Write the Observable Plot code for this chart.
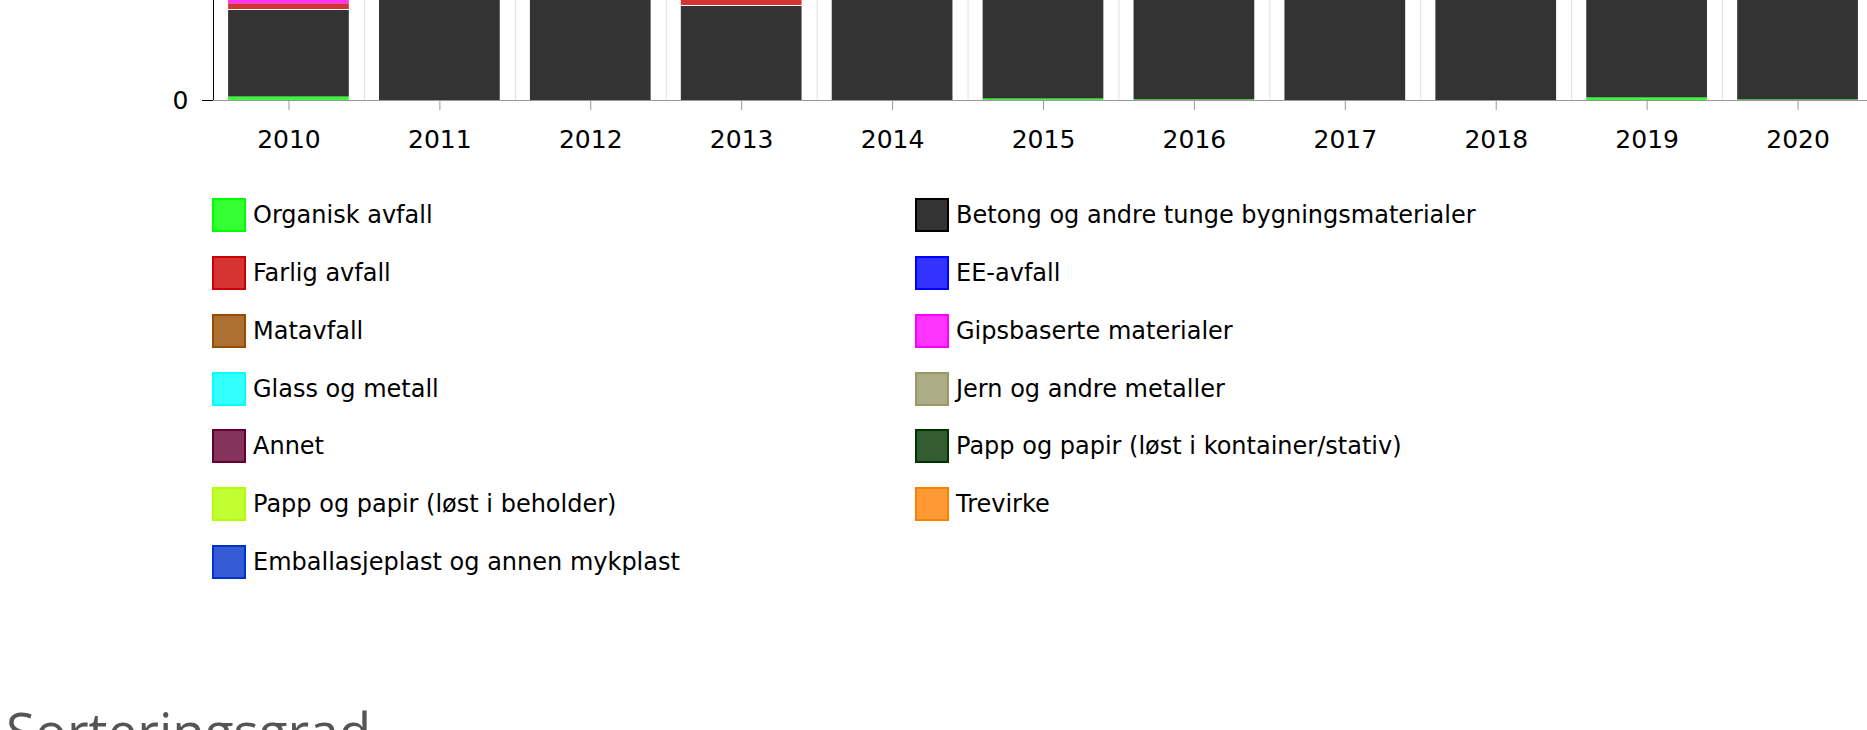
<!DOCTYPE html>
<html>
<head>
<meta charset="utf-8">
<script src="https://cdn.jsdelivr.net/npm/d3@7"></script>
<script src="https://cdn.jsdelivr.net/npm/@observablehq/plot@0.6"></script>
<style>
  html, body { margin: 0; padding: 0; background: #fff; overflow: hidden; width: 1867px; height: 730px; }
  #chart { position: absolute; left: 0; top: 0; width: 1880px; }
  #chart svg { max-width: none !important; }
  .legend { position: absolute; top: 186.6px; font-family: "DejaVu Sans", Verdana, sans-serif; font-size: 24px; color: #000; }
  .legend .item { display: flex; align-items: center; height: 57.75px; white-space: nowrap; }
  .legend .sw { box-sizing: border-box; width: 34px; height: 34px; border: 2px solid; margin-right: 7px; flex: none; }
  #legL { left: 212px; }
  #legR { left: 915px; }
  h2 { position: absolute; left: 6px; top: 704px; margin: 0; font-family: "Open Sans", "Noto Sans", sans-serif; font-weight: 400; font-size: 53px; line-height: 1; color: #555; white-space: nowrap; }
</style>
</head>
<body>
<div id="chart"></div>
<div class="legend" id="legL"></div>
<div class="legend" id="legR"></div>
<h2>Sorteringsgrad</h2>
<script>
// ---- data (tonnes; only the bottom of each bar is visible in the reference) ----
const years = ["2010","2011","2012","2013","2014","2015","2016","2017","2018","2019","2020"];

// stacking order (bottom to top)
const categories = [
  "Organisk avfall",
  "Betong og andre tunge bygningsmaterialer",
  "Farlig avfall",
  "EE-avfall",
  "Matavfall",
  "Gipsbaserte materialer",
  "Glass og metall",
  "Jern og andre metaller",
  "Annet",
  "Papp og papir (løst i kontainer/stativ)",
  "Papp og papir (løst i beholder)",
  "Trevirke",
  "Emballasjeplast og annen mykplast"
];
const baseColors = [
  "#00ff00", "#000000", "#cc0000", "#0000ff", "#994c00", "#ff00ff", "#00ffff",
  "#999966", "#660033", "#003300", "#b3ff00", "#ff8000", "#0033cc"
];

// legend columns as shown
const legendLeft = [
  "Organisk avfall", "Farlig avfall", "Matavfall", "Glass og metall", "Annet",
  "Papp og papir (løst i beholder)", "Emballasjeplast og annen mykplast"
];
const legendRight = [
  "Betong og andre tunge bygningsmaterialer", "EE-avfall", "Gipsbaserte materialer",
  "Jern og andre metaller", "Papp og papir (løst i kontainer/stativ)", "Trevirke"
];

const organisk = [3.5, 0, 0, 0, 0, 1.5, 0.7, 0, 0, 2.6, 0.6];
const betong   = [87.5, 380, 410, 95, 350, 320, 300, 360, 340, 290, 310];
const farlig   = [5.7, 0, 0, 12, 0, 0, 0, 0, 0, 0, 0];
const gips     = [25, 0, 0, 0, 0, 0, 0, 0, 0, 0, 0];

const yTicks = [0];
const yDomain = [0, 100];

// ---- build table ----
const seriesByCat = {
  "Organisk avfall": organisk,
  "Betong og andre tunge bygningsmaterialer": betong,
  "Farlig avfall": farlig,
  "Gipsbaserte materialer": gips
};
const rows = [];
for (const c of categories) {
  const vals = seriesByCat[c];
  if (!vals) continue;
  years.forEach((y, i) => rows.push({year: y, cat: c, value: vals[i]}));
}
const BETONG = "Betong og andre tunge bygningsmaterialer";

const width = 1880, marginLeft = 213, marginRight = 7;
const step = (width - marginLeft - marginRight) / years.length;

const stackOpts = {x: "year", y: "value", fill: "cat", order: categories};

const chart = Plot.plot({
  width, height: 175,
  marginTop: 0, marginBottom: 75, marginLeft, marginRight,
  style: {fontFamily: "'DejaVu Sans', Verdana, sans-serif", fontSize: "25px", color: "#000", background: "#fff", maxWidth: "none"},
  x: {domain: years, paddingInner: 0.2, paddingOuter: 0.1, round: false, label: null},
  y: {domain: yDomain, label: null},
  color: {domain: categories, range: baseColors},
  marks: [
    Plot.ruleX(years, {x: d => d, dx: -step / 2, stroke: "#e0e0e0"}),
    Plot.barY(rows, Plot.filter(d => d.cat !== BETONG, Plot.stackY({...stackOpts, fillOpacity: 0.8, clip: true}))),
    Plot.barY(rows, Plot.filter(d => d.cat === BETONG, Plot.stackY({...stackOpts, fillOpacity: 0.8, insetTop: 1, clip: true}))),
    Plot.ruleY([0], {stroke: "#999"}),
    Plot.ruleX([years[0]], {x: d => d, dx: -step / 2, stroke: "#000"}),
    Plot.axisY({ticks: yTicks, tickSize: 11, tickPadding: 14, stroke: "#000", fill: "#000", label: null}),
    Plot.axisX({tickSize: 10, tickPadding: 20, stroke: "#999", fill: "#000", label: null})
  ]
});
document.getElementById("chart").appendChild(chart);

// ---- legend ----
function rgba(hex, a) {
  const c = d3.rgb(hex);
  return `rgba(${c.r},${c.g},${c.b},${a})`;
}
function buildLegend(el, list) {
  for (const name of list) {
    const col = baseColors[categories.indexOf(name)];
    const item = document.createElement("div");
    item.className = "item";
    const sw = document.createElement("span");
    sw.className = "sw";
    sw.style.background = rgba(col, 0.8);
    sw.style.borderColor = col;
    const tx = document.createElement("span");
    tx.textContent = name;
    item.appendChild(sw);
    item.appendChild(tx);
    el.appendChild(item);
  }
}
buildLegend(document.getElementById("legL"), legendLeft);
buildLegend(document.getElementById("legR"), legendRight);
</script>
</body>
</html>
